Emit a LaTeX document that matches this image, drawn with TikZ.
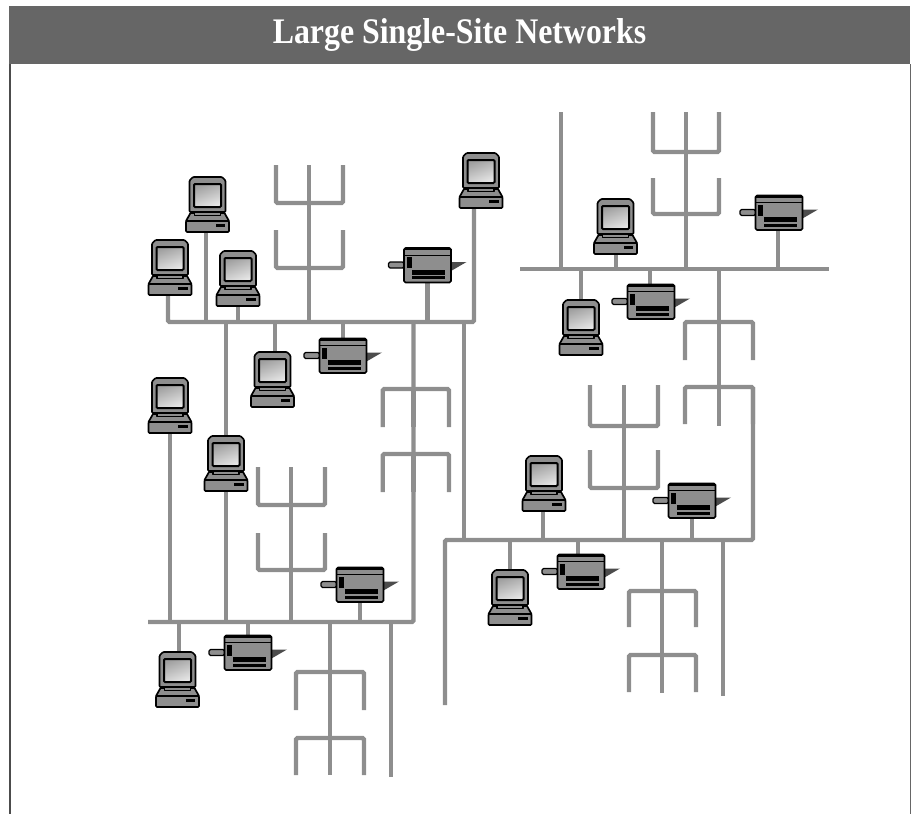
\documentclass[tikz,border=0pt]{standalone}
\usepackage{fontspec}
\setmainfont{Liberation Serif}
\usetikzlibrary{backgrounds}
\definecolor{wire}{HTML}{8E8E8E}
\definecolor{head}{HTML}{666666}
\definecolor{body}{HTML}{8E8E8E}
\tikzset{
  wireline/.style={draw=wire,line width=4.4pt,rounded corners=1.5pt},
  device/.style={inner sep=0pt,outer sep=0pt,minimum width=#1},
  shell/.style={draw=black,line width=1.7pt,fill=body,line join=round},
}
% computer: #1 name, #2 centre x, #3 top y
\newcommand{\pcicon}[3]{%
  \node[device=43pt,minimum height=55pt] (#1) at (#2,#3+27.5) {};
  \begin{scope}[shift={(#2,#3)}]
    \draw[shell] (-21.5,44) -- (-17,36) -- (17,36) -- (21.5,44) -- cycle;
    \draw[shell,rounded corners=1pt] (-21.5,44) rectangle (21.5,55);
    \fill[black] (8,46.5) rectangle (17.5,50);
    \draw[shell] (-13,33) rectangle (13,38.5);
    \draw[shell,rounded corners=1pt] (-18,35) -- (-18,3.5) -- (-14.5,0) -- (14.5,0) -- (18,3.5) -- (18,35) -- cycle;
    \shade[top color=gray!75,bottom color=gray!20,shading angle=20] (-13.5,7) rectangle (13.5,30);
    \draw[black,line width=2pt,rounded corners=1pt] (-13.5,7) rectangle (13.5,30);
  \end{scope}}
% printer: #1 name, #2 centre x, #3 top y
\newcommand{\printericon}[3]{%
  \node[device=47pt,minimum height=35pt] (#1) at (#2,#3+17.5) {};
  \begin{scope}[shift={(#2,#3)}]
    \draw[shell,line width=1.2pt,rounded corners=1.5pt] (-39,14) rectangle (-23.5,20);
    \fill[black!70] (23.5,14) -- (39,14) -- (23.5,23) -- cycle;
    \draw[shell,rounded corners=1.5pt] (-23.5,0) rectangle (23.5,34.5);
    \fill[black] (-23.5,0) rectangle (23.5,2.2);
    \draw[black,line width=1pt] (-23.5,7) -- (23.5,7);
    \fill[black] (-21,9) rectangle (-16,20);
    \fill[black] (-15.5,21.5) rectangle (17.5,26.5);
    \fill[black] (-15.5,28) rectangle (17.5,31);
  \end{scope}}
% three-pronged tree: #1 left, #2 centre, #3 right, #4 bar y, #5 leg end y
\newcommand{\prongs}[5]{%
  \draw[wireline] (#1,#5) -- (#1,#4) -- (#3,#4) -- (#3,#5);
  \draw[wireline] (#2,#4) -- (#2,#5);}
\begin{document}
\begin{tikzpicture}[x=1pt,y=-1pt]
\useasboundingbox (0,0) rectangle (912,814);
\fill[head] (9,6) rectangle (910,64);
\node[inner sep=0pt,text=white,font=\bfseries\fontsize{36pt}{36pt}\selectfont,xscale=.885,anchor=base] (title) at (459.5,43.3) {Large Single-Site Networks};
\draw[black!70,line width=2pt] (10,64) -- (10,814);
\draw[black!60,line width=.8pt] (910,64) -- (910,814);

% buses
\coordinate (busA) at (0,322);
\coordinate (busB) at (0,269);
\coordinate (busC) at (0,540);
\coordinate (busD) at (0,622);

% devices
\pcicon{pa}{207.5}{177}
\pcicon{pb}{170}{240}
\pcicon{pc}{238}{251}
\pcicon{pd}{481}{153}
\pcicon{pe}{272.5}{352}
\pcicon{pf}{170}{378}
\pcicon{pg}{226}{436}
\pcicon{ph}{615.5}{199}
\pcicon{pi}{581}{300}
\pcicon{pj}{544}{456}
\pcicon{pk}{510}{570}
\pcicon{pl}{177.5}{652}
\printericon{ra}{427.5}{248}
\printericon{rb}{343}{338.5}
\printericon{rc}{779}{195.5}
\printericon{rd}{651}{284.5}
\printericon{re}{692}{483.5}
\printericon{rf}{360}{567.5}
\printericon{rg}{248}{635.5}
\printericon{rh}{581}{554.5}

\begin{scope}[on background layer]
  % bus A
  \draw[wireline] (168,296) -- (168,322) -- (474,322) -- (474,208);
  \draw[wireline] (pa.south -| 206,0) -- (206,322);
  \draw[wireline] (pc.south) -- (pc.south |- busA);
  \draw[wireline] (ra.south) -- (ra.south |- busA);
  \draw[wireline] (rb.north) -- (rb.north |- busA);
  \draw[wireline] (pe.north -| 275,0) -- (275,322);
  \draw[wireline] (309,165) -- (309,322);
  \prongs{276}{309}{343}{203}{165}
  \prongs{276}{309}{343}{268}{230}
  \draw[wireline] (226,322) -- (226,622);
  \draw[wireline] (413.5,322) -- (413.5,622) -- (148,622);
  \prongs{382.7}{413.5}{449}{389}{427}
  \prongs{382.7}{413.5}{449}{454}{492}
  \draw[wireline] (464,322) -- (464,540);
  % bus B
  \draw[wireline] (520,269) -- (829,269);
  \draw[wireline] (561,112) -- (561,269);
  \draw[wireline] (ph.south -| 616,0) -- (616,269);
  \draw[wireline] (686,112) -- (686,269);
  \prongs{653}{686}{719}{152}{112}
  \prongs{653}{686}{719}{214}{178}
  \draw[wireline] (rc.south -| 778,0) -- (778,269);
  \draw[wireline] (pi.north) -- (pi.north |- busB);
  \draw[wireline] (rd.north -| 650,0) -- (650,269);
  \draw[wireline] (719,269) -- (719,426);
  \prongs{685}{719}{753}{322}{360}
  \prongs{685}{719}{753}{387}{424}
  \draw[wireline] (445,705) -- (445,540) -- (753,540) -- (753,387);
  % bus C
  \draw[wireline] (pk.north) -- (pk.north |- busC);
  \draw[wireline] (rh.north -| 578,0) -- (578,540);
  \draw[wireline] (pj.south -| 543,0) -- (543,540);
  \draw[wireline] (624,385) -- (624,540);
  \prongs{590}{624}{658}{426}{385}
  \prongs{590}{624}{658}{488}{450}
  \draw[wireline] (re.south) -- (re.south |- busC);
  \draw[wireline] (662,540) -- (662,693);
  \prongs{629}{662}{696}{591}{627}
  \prongs{629}{662}{696}{655}{692}
  \draw[wireline] (723,540) -- (723,696);
  % bus D
  \draw[wireline] (pf.south) -- (pf.south |- busD);
  \draw[wireline] (pg.south) -- (pg.south |- busD);
  \draw[wireline] (291,467) -- (291,622);
  \prongs{258}{291}{325}{505}{467}
  \prongs{258}{291}{325}{570}{533}
  \draw[wireline] (rf.south) -- (rf.south |- busD);
  \draw[wireline] (pl.north -| 179,0) -- (179,622);
  \draw[wireline] (rg.north) -- (rg.north |- busD);
  \draw[wireline] (330,622) -- (330,775);
  \prongs{296}{330}{364}{672}{710}
  \prongs{296}{330}{364}{738}{775}
  \draw[wireline] (391,622) -- (391,777);
\end{scope}
\end{tikzpicture}
\end{document}
